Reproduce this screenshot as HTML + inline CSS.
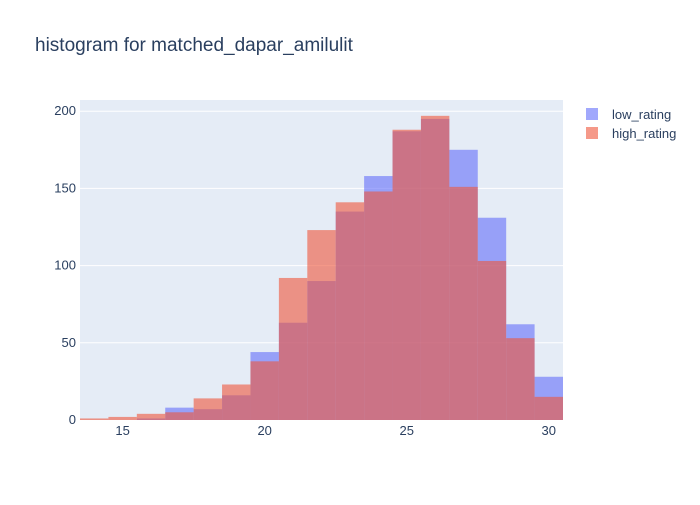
<!DOCTYPE html>
<html><head><meta charset="utf-8"><style>
body{margin:0;background:#fff;font-family:"Liberation Sans",sans-serif;}
</style></head><body>
<svg id="c" width="700" height="500" xmlns="http://www.w3.org/2000/svg">
<rect x="0" y="0" width="700" height="500" fill="#fff"/>
<text x="35" y="51" font-size="19" fill="#2a3f5f" font-family="Liberation Sans, sans-serif">histogram for matched_dapar_amilulit</text>
<rect x="80" y="100" width="483" height="320" fill="#e5ecf6"/>
<g id="grid"></g><g id="bars"></g><g id="ticks"></g>
<g>
<rect x="586" y="108" width="12" height="12" fill="rgb(99,110,250)" opacity="0.6"/>
<text x="612" y="119" font-size="13" fill="#2a3f5f">low_rating</text>
<rect x="586" y="127" width="12" height="12" fill="rgb(239,85,59)" opacity="0.6"/>
<text x="612" y="138" font-size="13" fill="#2a3f5f">high_rating</text>
</g>
</svg>
<script>
const binCenters=[14,15,16,17,18,19,20,21,22,23,24,25,26,27,28,29,30];
const lowRating=[0,0,1,8,7,16,44,63,90,135,158,187,195,175,131,62,28];
const highRating=[1,2,4,5,14,23,38,92,123,141,148,188,197,151,103,53,15];
const xTicks=[15,20,25,30];
const yTicks=[0,50,100,150,200];
const NS="http://www.w3.org/2000/svg";
const X0=80,X1=563,Y0=420,Y1=100,xmin=13.5,xmax=30.5;
const xs=v=>X0+(v-xmin)/(xmax-xmin)*(X1-X0);
const ys=v=>Y0-v*1.544;
function mk(t,a,p){const e=document.createElementNS(NS,t);for(const k in a)e.setAttribute(k,a[k]);p.appendChild(e);return e;}
const grid=document.getElementById('grid'),bars=document.getElementById('bars'),ticks=document.getElementById('ticks');
yTicks.forEach(v=>{
 if(v>0){const l=mk('line',{x1:X0,x2:X1,y1:ys(v),y2:ys(v),stroke:'#fff','stroke-width':1},grid);
 
 }
 const t=mk('text',{x:X0-4,y:ys(v)+4,'text-anchor':'end','font-size':13,fill:'#2a3f5f'},ticks);t.textContent=v;
 
 
});
xTicks.forEach(v=>{
 const t=mk('text',{x:xs(v),y:Y0+15,'text-anchor':'middle','font-size':13,fill:'#2a3f5f'},ticks);t.textContent=v;
 
 
});
[[lowRating,'rgb(99,110,250)','low'],[highRating,'rgb(239,85,59)','high']].forEach(([arr,col,nm])=>{
 binCenters.forEach((c,i)=>{
  const v=arr[i];if(v<=0)return;
  const x=xs(c-0.5),w=xs(c+0.5)-x;
  const r=mk('rect',{x:x,y:ys(v),width:w,height:Y0-ys(v),fill:col,opacity:0.6},bars);
  
  
 });
});
</script>
</body></html>
